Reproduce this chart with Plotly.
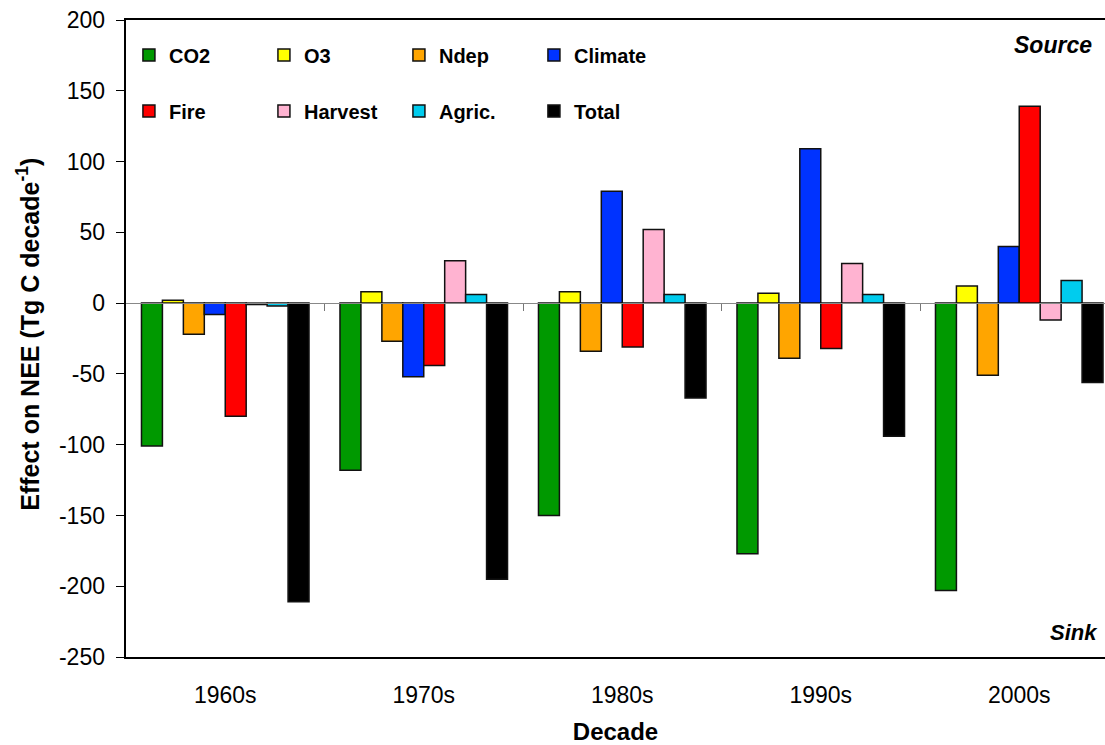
import plotly.graph_objects as go

decades = ["1960s", "1970s", "1980s", "1990s", "2000s"]
series_names = ["CO2", "O3", "Ndep", "Climate", "Fire", "Harvest", "Agric.", "Total"]
co2 = [-101, -118, -150, -177, -203]
o3 = [2, 8, 8, 7, 12]
ndep = [-22, -27, -34, -39, -51]
climate = [-8, -52, 79, 109, 40]
fire = [-80, -44, -31, -32, 139]
harvest = [-1, 30, 52, 28, -12]
agric = [-2, 6, 6, 6, 16]
total = [-211, -195, -67, -94, -56]
colors = ["#009900", "#FFFF00", "#FFA500", "#0033FF", "#FF0000", "#FFB3D1", "#00CCEE", "#000000"]
y_ticks = [200, 150, 100, 50, 0, -50, -100, -150, -200, -250]

values = [co2, o3, ndep, climate, fire, harvest, agric, total]
FONT = "Arial, Liberation Sans, sans-serif"

fig = go.Figure()
for i, (name, vals, col) in enumerate(zip(series_names, values, colors)):
    fig.add_trace(go.Bar(
        x=decades, y=vals, name=name,
        marker=dict(color=col, line=dict(color="#111111", width=1.5)),
        legend="legend" if i < 4 else "legend2",
    ))

# invisible trace for the zero-line axis with category-boundary ticks
fig.add_trace(go.Scatter(x=[0], y=[0], xaxis="x2", mode="markers",
                         marker=dict(opacity=0), showlegend=False, hoverinfo="skip"))

W, H = 1105, 745
ml, mr, mt, mb = 126, 0, 20, 88
xr = [-0.5, 4.432]

legend_common = dict(
    orientation="h", font=dict(family=FONT, size=20, color="black", weight="bold"),
    bgcolor="rgba(0,0,0,0)", entrywidth=90, entrywidthmode="pixels",
    xanchor="left", yanchor="middle", itemclick=False, itemdoubleclick=False,
    tracegroupgap=0,
)

fig.update_layout(
    width=W, height=H,
    margin=dict(l=ml, r=mr, t=mt, b=mb, autoexpand=False),
    paper_bgcolor="white", plot_bgcolor="white",
    barmode="group", bargap=0.156, bargroupgap=0,
    font=dict(family=FONT, color="black"),
    legend=dict(x=0.003, y=0.945, **legend_common),
    legend2=dict(x=0.003, y=0.857, **legend_common),
    xaxis=dict(
        type="category", range=xr, automargin=False,
        showline=True, linecolor="black", linewidth=2, mirror=True,
        ticks="outside", ticklen=16, tickcolor="rgba(0,0,0,0)",
        tickfont=dict(family=FONT, size=23, color="black"),
        showgrid=False, zeroline=False,
        title=dict(text="<b>Decade</b>", font=dict(family=FONT, size=24, color="black"), standoff=26),
    ),
    xaxis2=dict(
        overlaying="x", anchor="free", position=250 / 450, range=xr,
        tickmode="array", tickvals=[0.5, 1.5, 2.5, 3.5, 4.5],
        ticks="outside", ticklen=7, tickcolor="#777777", tickwidth=1,
        showticklabels=False, showline=True, linecolor="#888888", linewidth=1,
        showgrid=False, zeroline=False,
    ),
    yaxis=dict(
        range=[-250, 200], tickmode="array", tickvals=y_ticks, automargin=False,
        ticktext=[str(v) + "\u00a0" for v in y_ticks],
        ticklabeloverflow="allow",
        showline=True, linecolor="black", linewidth=2,
        ticks="outside", ticklen=8, tickcolor="black",
        tickfont=dict(family=FONT, size=23, color="black"),
        showgrid=False, zeroline=False,
    ),
    annotations=[
        dict(text="<b>Effect on NEE (Tg C decade<sup>-1</sup>)</b>", textangle=-90,
             xref="paper", yref="paper", x=-0.1, y=0.506,
             xanchor="center", yanchor="middle", showarrow=False,
             font=dict(family=FONT, size=25, color="black")),
        dict(text="<b><i>Source</i></b>", xref="paper", yref="paper", x=0.989, y=0.961,
             xanchor="right", yanchor="middle", showarrow=False,
             font=dict(family=FONT, size=23, color="black")),
        dict(text="<b><i>Sink</i></b>", xref="paper", yref="paper", x=0.995, y=0.039,
             xanchor="right", yanchor="middle", showarrow=False,
             font=dict(family=FONT, size=22, color="black")),
    ],
)

fig.write_html(
    "out.html",
    config={"displayModeBar": False},
    post_script="document.body.style.margin='0';document.body.style.overflow='hidden';",
)
